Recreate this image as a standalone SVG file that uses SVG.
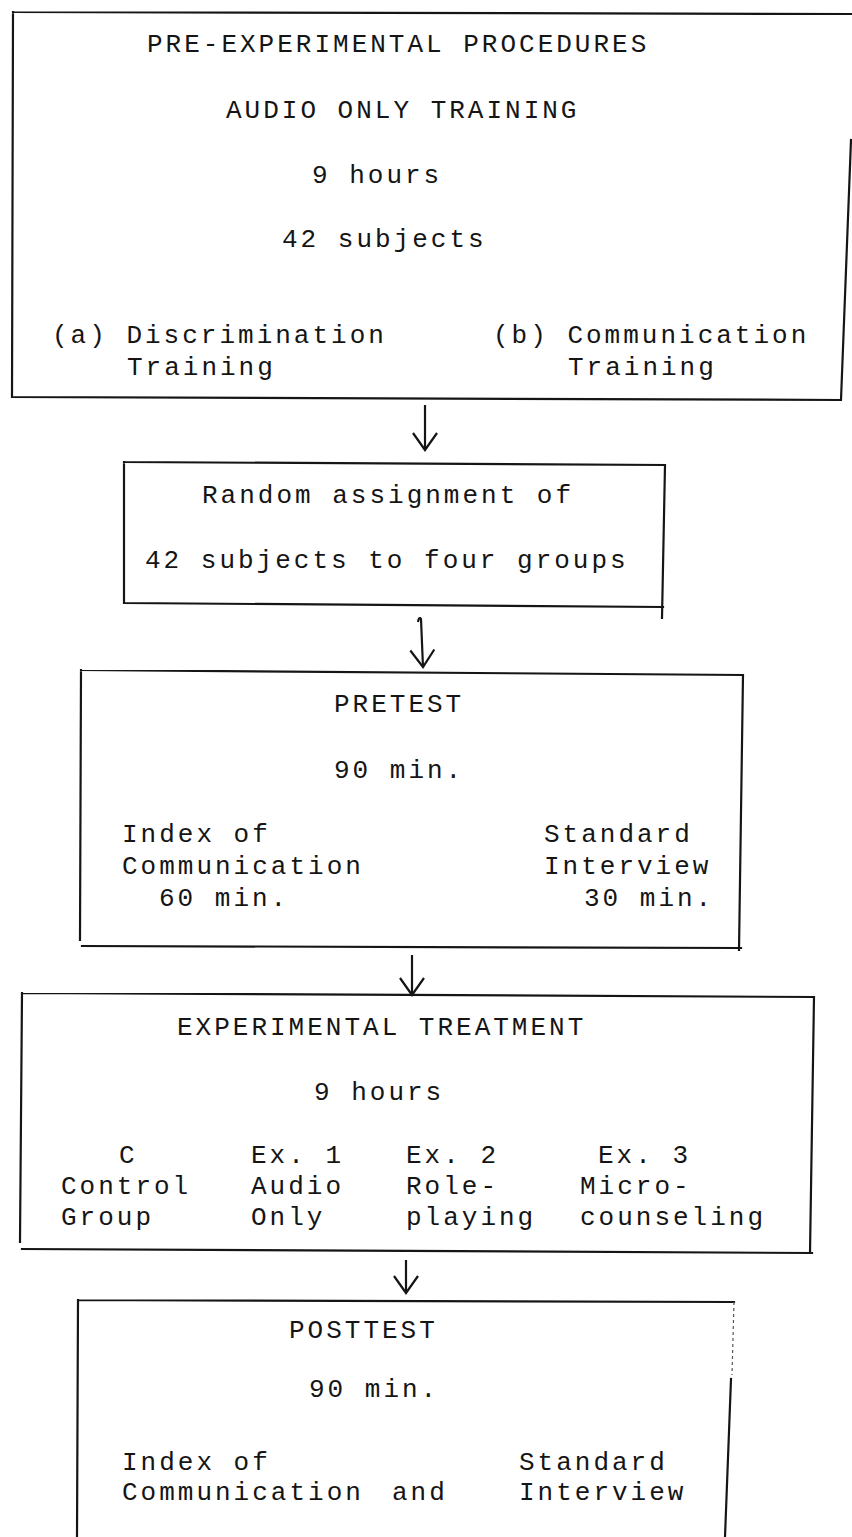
<svg xmlns="http://www.w3.org/2000/svg" width="852" height="1537" viewBox="0 0 852 1537">
<style>
.box{fill:none;stroke:#151515;stroke-width:2.2;stroke-linecap:square;stroke-linejoin:miter}
.faint{fill:none;stroke:#555;stroke-width:1.2;stroke-dasharray:3 3}
.conn{fill:none;stroke:#151515;stroke-width:2.2}
.t{font-family:"Liberation Mono","Courier New",monospace;font-size:26px;letter-spacing:3px;fill:#151515}
</style>
<defs>
<marker id="arrow" viewBox="-19 -14 21 28" refX="0" refY="0" markerWidth="21" markerHeight="28" markerUnits="userSpaceOnUse" orient="auto">
<path d="M -17 -12 L 0 0 L -17 12" fill="none" stroke="#151515" stroke-width="2.2"/>
</marker>
</defs>
<rect x="0" y="0" width="852" height="1537" fill="#ffffff"/>

<g id="node-pre-experimental">
<path class="box" d="M 13 12 L 852 14 M 13 12 L 12 397 L 841 400 L 851 140"/>
<text class="t" x="147" y="52">PRE-EXPERIMENTAL PROCEDURES</text>
<text class="t" x="226" y="118">AUDIO ONLY TRAINING</text>
<text class="t" x="312" y="183">9 hours</text>
<text class="t" x="282" y="247">42 subjects</text>
<text class="t" x="52" y="343">(a) Discrimination</text>
<text class="t" x="127" y="375">Training</text>
<text class="t" x="493" y="343">(b) Communication</text>
<text class="t" x="568" y="375">Training</text>
</g>

<g id="node-random-assignment">
<path class="box" d="M 124 462 L 665 465 L 662 618 M 124 462 L 124 603 L 663 607"/>
<text class="t" x="202" y="503">Random assignment of</text>
<text class="t" x="145" y="568">42 subjects to four groups</text>
</g>

<g id="node-pretest">
<path class="box" d="M 81 670 L 743 675 L 739 950 M 81 670 L 80 940 M 82 946 L 741 948"/>
<text class="t" x="334" y="712">PRETEST</text>
<text class="t" x="334" y="778">90 min.</text>
<text class="t" x="122" y="842">Index of</text>
<text class="t" x="122" y="874">Communication</text>
<text class="t" x="159" y="906">60 min.</text>
<text class="t" x="544" y="842">Standard</text>
<text class="t" x="544" y="874">Interview</text>
<text class="t" x="584" y="906">30 min.</text>
</g>

<g id="node-experimental-treatment">
<path class="box" d="M 22 993 L 814 997 L 810 1253 M 22 993 L 20 1242 M 22 1249 L 812 1253"/>
<text class="t" x="177" y="1035">EXPERIMENTAL TREATMENT</text>
<text class="t" x="314" y="1100">9 hours</text>
<text class="t" x="119" y="1163">C</text>
<text class="t" x="251" y="1163">Ex. 1</text>
<text class="t" x="406" y="1163">Ex. 2</text>
<text class="t" x="598" y="1163">Ex. 3</text>
<text class="t" x="61" y="1194">Control</text>
<text class="t" x="251" y="1194">Audio</text>
<text class="t" x="406" y="1194">Role-</text>
<text class="t" x="580" y="1194">Micro-</text>
<text class="t" x="61" y="1225">Group</text>
<text class="t" x="251" y="1225">Only</text>
<text class="t" x="406" y="1225">playing</text>
<text class="t" x="580" y="1225">counseling</text>
</g>

<g id="node-posttest">
<path class="box" d="M 78 1300 L 734 1302 M 78 1300 L 77 1537 M 731 1379 L 725 1537"/>
<path class="faint" d="M 734 1302 L 732 1375"/>
<text class="t" x="289" y="1338">POSTTEST</text>
<text class="t" x="309" y="1397">90 min.</text>
<text class="t" x="122" y="1470">Index of</text>
<text class="t" x="122" y="1500">Communication</text>
<text class="t" x="392" y="1500">and</text>
<text class="t" x="519" y="1470">Standard</text>
<text class="t" x="519" y="1500">Interview</text>
</g>

<g id="connectors">
<path class="conn" d="M 425 405 L 425 450" marker-end="url(#arrow)"/>
<path class="conn" d="M 418 622 Q 419 616 421 619 L 423 667" marker-end="url(#arrow)"/>
<path class="conn" d="M 412 955 L 412 995" marker-end="url(#arrow)"/>
<path class="conn" d="M 406 1260 L 406 1293" marker-end="url(#arrow)"/>
</g>
</svg>
